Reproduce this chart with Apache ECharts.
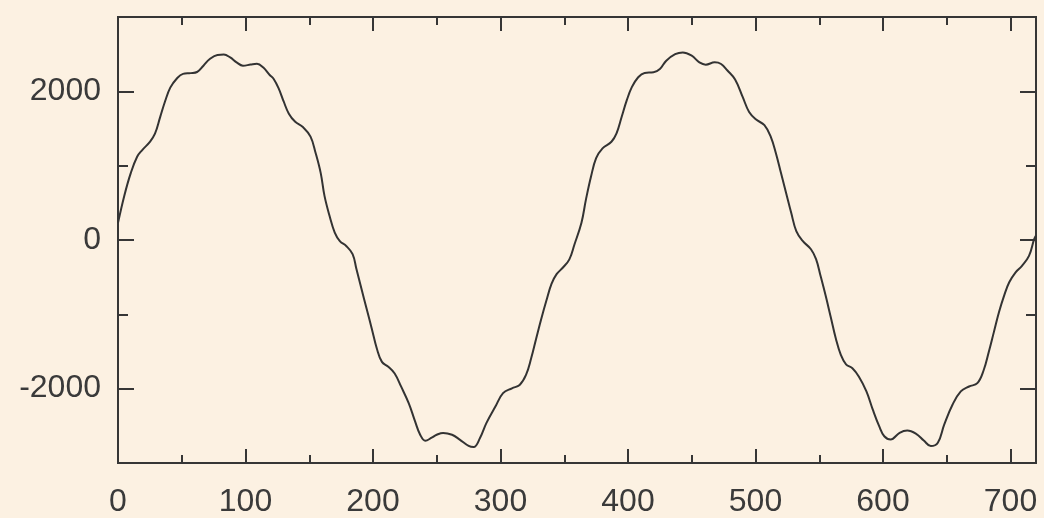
<!DOCTYPE html>
<html>
<head>
<meta charset="utf-8">
<script src="https://cdn.jsdelivr.net/npm/echarts@6/dist/echarts.min.js"></script>
<style>
  html, body { margin: 0; padding: 0; background: #fcf1e2; }
  #chart { width: 1044px; height: 518px; }
</style>
</head>
<body>
<div id="chart"></div>
<script>
// Data
const xValues = [0, 5, 10, 15, 19, 25, 29, 33, 37, 41, 46, 51, 57, 62, 67, 72, 78, 83, 88, 93, 98, 104, 109, 114, 119, 122, 126, 130, 134, 139, 145, 151, 155, 159, 162, 166, 170, 174, 179, 184, 187, 191, 195, 199, 203, 207, 212, 217, 222, 228, 233, 237, 241, 246, 250, 255, 262, 268, 275, 279, 284, 289, 296, 302, 309, 315, 320, 324, 328, 332, 336, 340, 344, 349, 354, 358, 363.5, 367, 371, 375, 380, 387, 391, 395, 399, 403, 408, 413, 420, 425, 430, 437, 443, 450, 456, 461, 468, 473, 478, 484, 490, 495, 500.5, 507, 512, 516, 520, 524, 528, 532, 537, 543.5, 547.5, 551, 555, 559, 563, 567, 571, 576, 581, 587, 592, 597, 601, 606, 613, 619, 626, 632, 637.5, 643, 648, 654.5, 661, 667.5, 674, 679, 683, 687, 691, 695, 699, 704, 709, 714.5, 718.5, 720];
const yValues = [230, 600, 900, 1120, 1210, 1320, 1430, 1650, 1870, 2050, 2170, 2235, 2245, 2260, 2345, 2435, 2490, 2495, 2456, 2390, 2345, 2360, 2370, 2320, 2220, 2170, 2040, 1860, 1700, 1590, 1520, 1390, 1170, 900, 590, 320, 100, -15, -80, -190, -390, -660, -925, -1190, -1460, -1640, -1705, -1795, -1970, -2195, -2440, -2620, -2700, -2660, -2620, -2595, -2620, -2685, -2770, -2785, -2660, -2460, -2240, -2060, -1995, -1950, -1815, -1595, -1325, -1060, -815, -590, -460, -370, -260, -60, 232, 543, 854, 1100, 1233, 1322, 1434, 1655, 1878, 2056, 2190, 2248, 2256, 2300, 2412, 2500, 2523, 2479, 2390, 2359, 2390, 2368, 2280, 2160, 1922, 1722, 1620, 1545, 1388, 1167, 900, 633, 366, 120, -13, -124, -258, -481, -748, -1036, -1326, -1549, -1673, -1726, -1837, -2037, -2283, -2505, -2640, -2683, -2594, -2563, -2607, -2697, -2772, -2727, -2483, -2216, -2037, -1971, -1926, -1749, -1503, -1236, -969, -748, -569, -435, -347, -214, 9, 60];

const xMajorTicks = [0, 100, 200, 300, 400, 500, 600, 700];
const xMinorTicks = [50, 150, 250, 350, 450, 550, 650];
const yMajorTicks = [-2000, 0, 2000];
const yMinorTicks = [-1000, 1000];

const points = xValues.map((x, i) => [x, yValues[i]]);

const ink = '#363636';
const font = { fontFamily: 'Liberation Sans', fontSize: 32, color: '#3a3a3a', formatter: v => String(v) };

function xAx(pos, ticks, len, labels) {
  return {
    type: 'value', min: 0, max: 720, position: pos,
    axisLine: { show: true, onZero: false, lineStyle: { color: ink, width: 2 } },
    axisTick: { show: true, inside: true, length: len, customValues: ticks, lineStyle: { color: ink, width: 2 } },
    axisLabel: labels ? Object.assign({ show: true, customValues: labels, margin: 23 }, font) : { show: false },
    splitLine: { show: false }
  };
}
function yAx(pos, ticks, len, labels) {
  return {
    type: 'value', min: -3000, max: 3000, position: pos,
    axisLine: { show: true, onZero: false, lineStyle: { color: ink, width: 2 } },
    axisTick: { show: true, inside: true, length: len, customValues: ticks, lineStyle: { color: ink, width: 2 } },
    axisLabel: labels ? Object.assign({ show: true, customValues: labels, margin: 17 }, font) : { show: false },
    splitLine: { show: false }
  };
}

const chart = echarts.init(document.getElementById('chart'), null, { renderer: 'canvas' });
chart.setOption({
  backgroundColor: '#fcf1e2',
  animation: false,
  grid: { left: 118, right: 8, top: 17, bottom: 53, containLabel: false },
  xAxis: [
    xAx('bottom', xMajorTicks, 14, xMajorTicks),
    xAx('bottom', xMinorTicks, 8, null),
    xAx('top', xMajorTicks, 14, null),
    xAx('top', xMinorTicks, 8, null)
  ],
  yAxis: [
    yAx('left', yMajorTicks, 16, yMajorTicks),
    yAx('left', yMinorTicks, 10, null),
    yAx('right', yMajorTicks, 16, null),
    yAx('right', yMinorTicks, 10, null)
  ],
  series: [{
    type: 'line',
    xAxisIndex: 0, yAxisIndex: 0,
    data: points,
    smooth: 0.4,
    symbol: 'none',
    lineStyle: { color: '#333333', width: 2 }
  }]
});
</script>
</body>
</html>
